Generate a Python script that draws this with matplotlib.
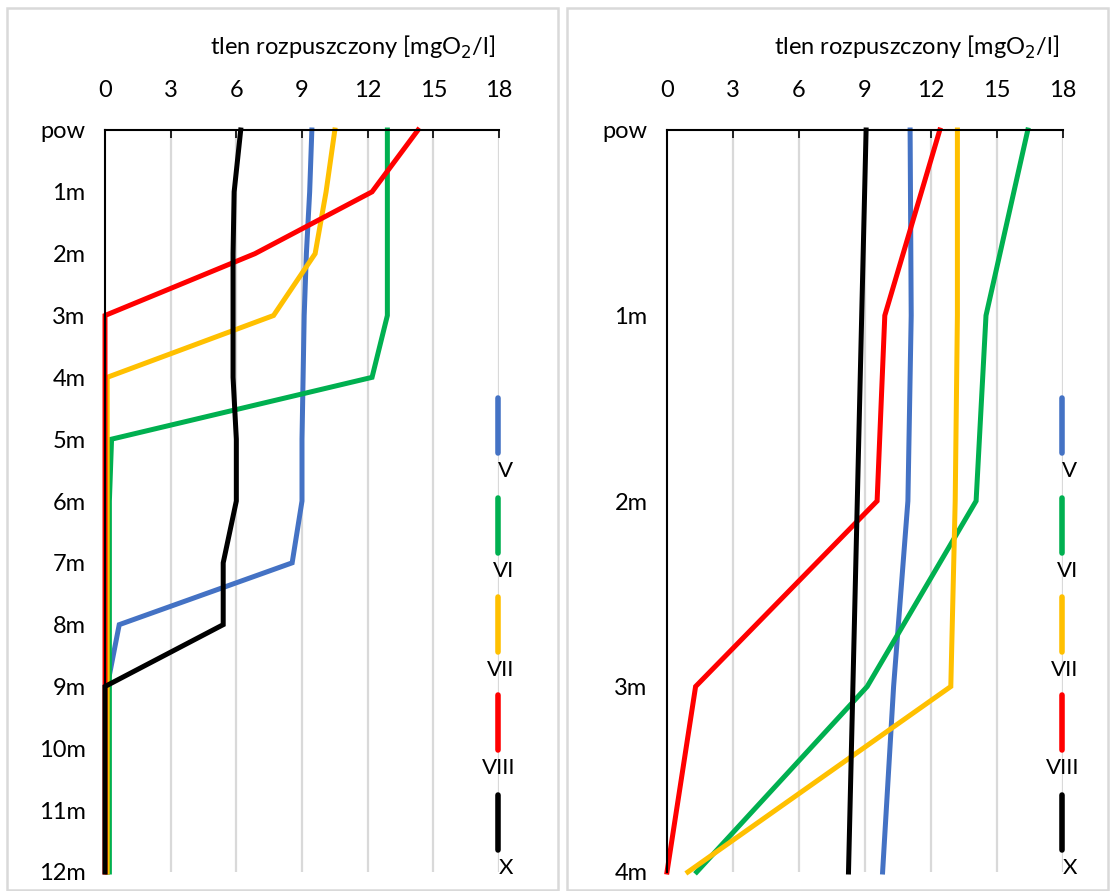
import matplotlib

matplotlib.use("Agg")
import matplotlib.pyplot as plt
from matplotlib.lines import Line2D
from matplotlib.patches import Rectangle

plt.rcParams["font.family"] = ["Lato", "DejaVu Sans"]

MONTHS = ["V", "VI", "VII", "VIII", "X"]
COLORS = {"V": "#4472c4", "VI": "#00b050", "VII": "#ffc000",
          "VIII": "#ff0000", "X": "#000000"}

# left panel: depths pow..12m
depth_left = ["pow", "1m", "2m", "3m", "4m", "5m", "6m", "7m", "8m",
              "9m", "10m", "11m", "12m"]
left_V = [9.45, 9.35, 9.2, 9.1, 9.05, 9.0, 9.0, 8.55, 0.65, 0.1, 0.1, 0.1, 0.1]
left_VI = [12.9, 12.9, 12.9, 12.9, 12.2, 0.3, 0.2, 0.2, 0.2, 0.2, 0.2, 0.2, 0.2]
left_VII = [10.5, 10.1, 9.6, 7.7, 0.1, 0.1, 0.1, 0.1, 0.1, 0.1, 0.1, 0.1, 0.1]
left_VIII = [14.3, 12.2, 6.85, 0.0, 0.0, 0.0, 0.0, 0.0, 0.0, 0.0, 0.0, 0.0, 0.0]
left_X = [6.2, 5.9, 5.85, 5.85, 5.85, 6.0, 6.0, 5.4, 5.4, 0.0, 0.0, 0.0, 0.0]

# right panel: depths pow..4m
depth_right = ["pow", "1m", "2m", "3m", "4m"]
right_V = [11.05, 11.1, 10.95, 10.3, 9.8]
right_VI = [16.4, 14.5, 14.05, 9.1, 1.35]
right_VII = [13.2, 13.2, 13.1, 12.9, 0.95]
right_VIII = [12.4, 9.9, 9.55, 1.3, 0.0]
right_X = [9.05, 8.85, 8.65, 8.45, 8.25]

W, H = 1113, 891
fig = plt.figure(figsize=(W / 100, H / 100), dpi=100)


def fx(px):
    return px / W


def fy(py):
    return 1 - py / H


def panel(x0, x1, ax_left, ax_right, depths, series):
    # panel border
    fig.patches.append(Rectangle((fx(x0), fy(890)), fx(x1 - x0), fy(8) - fy(890),
                                 transform=fig.transFigure, fill=False,
                                 edgecolor="#d9d9d9", linewidth=1.8))
    ax = fig.add_axes([fx(ax_left), fy(872), fx(ax_right - ax_left), fy(130) - fy(872)])
    y = list(range(len(depths)))
    for m, vals in zip(MONTHS, series):
        ax.plot(vals, y, color=COLORS[m], lw=3.6, solid_joinstyle="miter",
                clip_on=False, zorder=3)
    ax.set_xlim(0, 18)
    ax.set_ylim(len(depths) - 1, 0)
    ax.set_xticks(range(0, 19, 3))
    ax.set_yticks(y)
    ax.set_yticklabels(depths)
    ax.xaxis.tick_top()
    ax.tick_params(axis="x", direction="in", length=6, width=1.2, pad=21,
                   labelsize=17, colors="black")
    ax.tick_params(axis="y", length=0, pad=14, labelsize=17)
    for s in ["right", "bottom"]:
        ax.spines[s].set_visible(False)
    for s in ["top", "left"]:
        ax.spines[s].set_linewidth(1.5)
        ax.spines[s].set_zorder(4)
    for v in range(3, 19, 3):
        ax.axvline(v, color="#d9d9d9", lw=1.6, zorder=1)
    ax.set_facecolor("none")
    ax.text(1.0 - 4 / (ax_right - ax_left), fy(47), "tlen rozpuszczony [mgO$_2$/l]",
            transform=ax.get_yaxis_transform().__class__(ax.transAxes, fig.transFigure),
            ha="right", va="center", fontsize=17)

    # legend: vertical segments with labels below
    line_x = ax_right - 1.5
    tops = [398, 498, 597, 695, 795]
    label_dx = [8, 6, 3, 1, 9]
    for m, t, dx in zip(MONTHS, tops, label_dx):
        fig.add_artist(Line2D([fx(line_x), fx(line_x)], [fy(t), fy(t + 55)],
                              transform=fig.transFigure, color=COLORS[m],
                              lw=4, solid_capstyle="round"))
        fig.text(fx(line_x + dx), fy(t + 73), m, ha="center", va="center",
                 fontsize=16)
    return ax


panel(7, 558, 105, 499, depth_left,
      [left_V, left_VI, left_VII, left_VIII, left_X])
panel(567, 1108, 667, 1063, depth_right,
      [right_V, right_VI, right_VII, right_VIII, right_X])

fig.savefig("out.png", dpi=100)
